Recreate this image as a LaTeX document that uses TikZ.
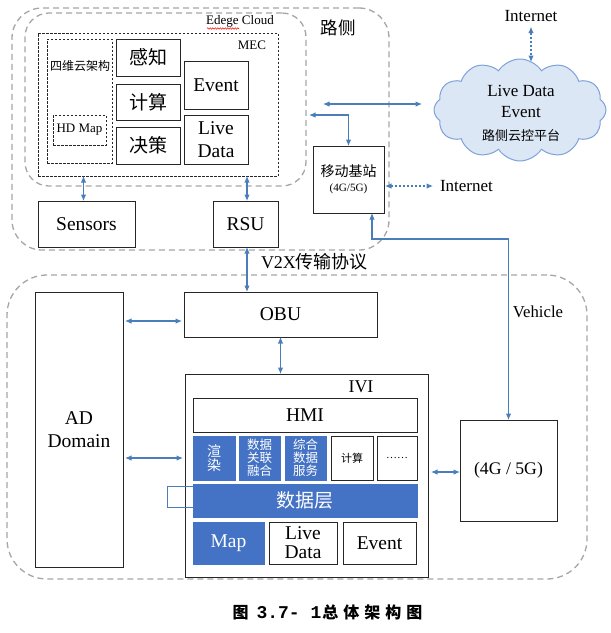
\documentclass[tikz,border=0pt]{standalone}
\usepackage{fontspec}
\setmainfont{Liberation Serif}
\newfontfamily\cjk{Noto Sans CJK SC}
\newfontfamily\monob{Liberation Mono}
\usetikzlibrary{arrows.meta,shapes.symbols,decorations.pathmorphing,calc}
\definecolor{oblue}{HTML}{4472C4}
\definecolor{ablue}{HTML}{4A7EBB}
\definecolor{dgray}{HTML}{A6A6A6}
\definecolor{cfill}{HTML}{DCE7F6}
\definecolor{cline}{HTML}{7DA2D8}
\newcommand{\myfs}[1]{\fontsize{#1}{#1}\selectfont}
\begin{document}
\begin{tikzpicture}[x=1pt,y=-1pt,
  box/.style={draw=black!85, line width=1pt, inner sep=0pt, outer sep=0pt, align=center, font=\myfs{19.5}},
  bluebox/.style={fill=oblue, draw=oblue, line width=0.5pt, text=white, inner sep=0pt, outer sep=0pt, align=center},
  gdash/.style={draw=dgray, line width=1.3pt, dash pattern=on 6pt off 4pt, inner sep=0pt, outer sep=0pt},
  fdash/.style={draw=black!85, line width=0.8pt, dash pattern=on 2.5pt off 1.5pt, inner sep=0pt, outer sep=0pt},
  arr/.style={draw=ablue, line width=1.1pt, {Latex[length=6.5pt,width=5.5pt]}-{Latex[length=6.5pt,width=5.5pt]}},
  darr/.style={arr, dash pattern=on 2.5pt off 1.5pt},
  lbl/.style={inner sep=0pt, outer sep=0pt, align=center}]

\path[use as bounding box, fill=white] (0,0) rectangle (611,633);

% ---------- roadside (top) ----------
\node[gdash, rounded corners=30pt, minimum width=377pt, minimum height=242pt] (road) at (200.5,129) {};
\node[gdash, rounded corners=24pt, minimum width=281pt, minimum height=173pt] (edge) at (165.5,99.5) {};
\node[lbl, font=\myfs{13}] (edgelbl) at (240,21) {Edege Cloud};
\draw[red, line width=0.5pt, decorate, decoration={snake, amplitude=0.7pt, segment length=2.5pt}] (207,28.5) -- (239,28.5);
\node[lbl, font=\cjk\myfs{17.5}] (roadlbl) at (338,28) {路侧};

\node[fdash, minimum width=240pt, minimum height=143pt] (mec) at (158,104.5) {};
\node[lbl, font=\myfs{13}] (meclbl) at (252,45) {MEC};
\node[fdash, minimum width=65pt, minimum height=124pt] (fourd) at (79.5,101) {};
\node[lbl, font=\cjk\myfs{12}] (fourdlbl) at (80,66) {四维云架构};
\node[fdash, minimum width=53pt, minimum height=30pt, font=\myfs{13}] (hdmap) at (79.5,130) {HD Map};

\node[box, minimum width=64pt, minimum height=37pt, font=\cjk\myfs{19}] (perc) at (148,57.5) {感知};
\node[box, minimum width=64pt, minimum height=36pt, font=\cjk\myfs{19}] (comp) at (148,102) {计算};
\node[box, minimum width=64pt, minimum height=37pt, font=\cjk\myfs{19}] (deci) at (148,145.5) {决策};
\node[box, minimum width=64pt, minimum height=48pt] (ev1) at (216,85) {Event};
\node[box, minimum width=64pt, minimum height=49pt, font=\fontsize{19.5}{23}\selectfont] (ld1) at (216,139.5) {Live\\Data};

\node[box, minimum width=97pt, minimum height=46pt] (sensors) at (86.5,224) {Sensors};
\node[box, minimum width=65pt, minimum height=46pt] (rsu) at (245.5,224) {RSU};
\node[box, minimum width=71pt, minimum height=67pt, font=\cjk\myfs{14}] (base) at (348.5,179.5) {移动基站\\[1pt]{\rmfamily\myfs{11.2}(4G/5G)}};

% ---------- cloud ----------
\node[cloud, cloud puffs=12, cloud puff arc=115, aspect=1.66, draw=cline, fill=cfill, line width=1pt,
      minimum width=172pt, minimum height=102pt, inner sep=0pt] (cloud) at (520,110) {};
\node[lbl, font=\fontsize{17}{21}\selectfont] (cloudtxt) at (521,113) {Live Data\\Event\\[2pt]{\cjk\myfs{13}路侧云控平台}};

\node[lbl, font=\myfs{17}] (inet1) at (531,16) {Internet};
\node[lbl, anchor=west, font=\myfs{17}] (inet2) at (440,186) {Internet};
\coordinate (cloudtop) at (530,62);
\coordinate (h1) at (323,104);
\coordinate (h2) at (422,104);
\coordinate (hl) at (309,115);

% ---------- vehicle (bottom) ----------
\node[gdash, rounded corners=40pt, minimum width=580pt, minimum height=304pt] (veh) at (297,427) {};
\node[lbl, font=\myfs{18}] (v2x) at (314.5,262) {V2X{\cjk 传输协议}};
\node[lbl, font=\myfs{16.7}] (vehlbl) at (538,312) {Vehicle};

\node[box, minimum width=88pt, minimum height=275pt, font=\fontsize{19.5}{23}\selectfont] (ad) at (79,429.5) {AD\\Domain};
\node[box, minimum width=193pt, minimum height=45pt] (obu) at (280.5,314.5) {OBU};
\node[box, minimum width=243pt, minimum height=203pt] (ivi) at (306.5,475.5) {};
\node[lbl, font=\myfs{18}] (ivilbl) at (361,387) {IVI};
\node[box, minimum width=224pt, minimum height=34pt] (hmi) at (305,415) {HMI};

\node[bluebox, minimum width=42pt, minimum height=44pt, font=\cjk\fontsize{14}{14.5}\selectfont] (r1) at (214,458) {渲\\染};
\node[bluebox, minimum width=41pt, minimum height=44pt, font=\cjk\fontsize{12.5}{13.2}\selectfont] (r2) at (259.5,458) {数据\\关联\\融合};
\node[bluebox, minimum width=41pt, minimum height=44pt, font=\cjk\fontsize{12.5}{13.2}\selectfont] (r3) at (305.5,458) {综合\\数据\\服务};
\node[box, minimum width=42pt, minimum height=44pt, font=\cjk\myfs{11}] (r4) at (352,458) {计算};
\node[box, minimum width=40pt, minimum height=44pt, font=\myfs{11}] (r5) at (397,458) {……};

\node[bluebox, minimum width=224pt, minimum height=33pt, font=\cjk\myfs{19}] (dl) at (305,500.5) {数据层};
\node[bluebox, minimum width=71pt, minimum height=42pt, font=\myfs{19.5}] (map) at (228.5,543) {Map};
\node[box, minimum width=68pt, minimum height=42pt, font=\fontsize{19.5}{19}\selectfont] (ld2) at (303,543) {Live\\Data};
\node[box, minimum width=73pt, minimum height=42pt] (ev2) at (379.5,543) {Event};

\node[box, minimum width=97pt, minimum height=101pt, font=\myfs{17.7}] (g4) at (508.5,470.5) {(4G / 5G)};

% ---------- connectors ----------
\draw[arr] ([xshift=-3pt]sensors.north) -- ([xshift=-3pt]sensors.north |- mec.south);
\draw[arr] ([xshift=1.5pt]rsu.north) -- ([xshift=1.5pt]rsu.north |- mec.south);
\draw[arr] ([xshift=1.5pt]rsu.south) -- ([xshift=1.5pt]rsu.south |- obu.north);
\draw[arr] ([yshift=-6.5pt,xshift=-2pt]obu.west) -- ([yshift=-6.5pt,xshift=2pt]obu.west -| ad.east);
\draw[arr] (obu.south) -- (obu.south |- ivi.north);
\draw[arr] ([xshift=2pt]ad.east |- r1.west) -- ([xshift=-2pt]ivi.west |- r1.west);
\draw[arr] ([yshift=-1.5pt,xshift=3pt]ivi.east |- g4.west) -- ([yshift=-1.5pt]g4.west);
\draw[arr] ([xshift=23.5pt]base.south) -- ++(0,26) -| (g4.north);
\draw[arr] (h1) -- (h2);
\draw[arr] (hl) -| (base.north);
\draw[darr] ([yshift=-6.5pt,xshift=1pt]base.east) -- ([xshift=-7pt]inet2.west);
\draw[darr] ([yshift=-5pt]inet1.south) -- (inet1.south |- cloudtop);
\draw[draw=ablue, line width=1pt] ([yshift=-2pt]dl.north west) -- ++(-26,0) |- ([yshift=10pt]dl.south west);

% ---------- caption ----------
\node[lbl, font=\cjk\bfseries\myfs{16}] (cap) at (327.5,612) {图\hspace{8pt}{\monob\bfseries\myfs{18}3.7- 1}\hspace{1pt}总\hspace{5pt}体\hspace{5pt}架\hspace{5pt}构\hspace{5pt}图};
\end{tikzpicture}
\end{document}
